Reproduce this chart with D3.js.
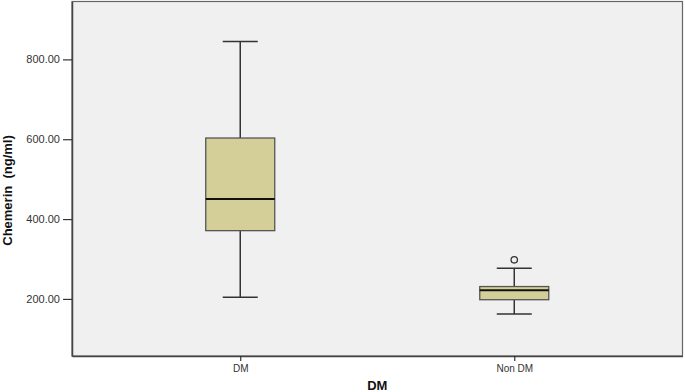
<!DOCTYPE html>
<html>
<head>
<meta charset="utf-8">
<script src="https://cdn.jsdelivr.net/npm/d3@7"></script>
<style>
  body { margin: 0; background: #fff; }
  text { font-family: "Liberation Sans", Arial, sans-serif; }
</style>
</head>
<body>
<div id="chart"></div>
<script>
// Data
const groups = ["DM", "Non DM"];
const whiskerLow = [204, 162];
const q1 = [371, 198];
const median = [450, 222];
const q3 = [603, 231];
const whiskerHigh = [845, 277];
const outliers = [[], [298]];
const yTicks = [200, 400, 600, 800];

const W = 685, H = 392;
const margin = {top: 1.5, right: 2.5, bottom: 36, left: 72};
const width = W - margin.left - margin.right,
    height = H - margin.top - margin.bottom;

const x = d3.scalePoint().domain(groups).range([0, width]).padding(0.614);
const y = d3.scaleLinear().domain([57, 945]).range([height, 0]);

const svg = d3.select("#chart").append("svg")
    .attr("width", W)
    .attr("height", H)
  .append("g")
    .attr("transform", "translate(" + margin.left + "," + margin.top + ")");

// Plot background and frame
svg.append("rect")
    .attr("width", width).attr("height", height)
    .attr("fill", "#f0f0f0")
    .attr("stroke", "#666").attr("stroke-width", 1.2);

// Axes
const yAxis = svg.append("g")
    .call(d3.axisLeft(y).tickValues(yTicks).tickFormat(d3.format(".2f")).tickSize(9).tickSizeOuter(0));
yAxis.select(".domain").attr("stroke", "#444").attr("stroke-width", 1.5);
yAxis.selectAll(".tick line").attr("stroke", "#333").attr("stroke-width", 1.2);
yAxis.selectAll(".tick text").attr("font-size", 11).attr("fill", "#333").attr("dx", 0);

const xAxis = svg.append("g")
    .attr("transform", "translate(0," + height + ")")
    .call(d3.axisBottom(x).tickSize(5).tickSizeOuter(0));
xAxis.select(".domain").attr("stroke", "#444").attr("stroke-width", 1.5);
xAxis.selectAll(".tick line").attr("stroke", "#333").attr("stroke-width", 1.2);
xAxis.selectAll(".tick text").attr("font-size", 10).attr("fill", "#333").attr("dy", "0.8em");

// Axis titles
svg.append("text")
    .attr("x", width / 2).attr("y", H - margin.top - 2)
    .attr("text-anchor", "middle")
    .attr("font-size", 13).attr("font-weight", "bold").attr("fill", "#111")
    .text("DM");

svg.append("text")
    .attr("transform", "translate(" + (12 - margin.left) + "," + 189 + ") rotate(-90)")
    .attr("text-anchor", "middle")
    .attr("xml:space", "preserve")
    .style("white-space", "pre")
    .attr("font-size", 13).attr("font-weight", "bold").attr("fill", "#111")
    .text("Chemerin  (ng/ml)");

// Boxes
const boxW = 69, capW = 35;
const boxes = svg.selectAll(".box")
    .data(groups.map((g, i) => ({g, i})))
    .enter().append("g")
    .attr("class", "box")
    .attr("transform", d => "translate(" + x(d.g) + ",0)");

boxes.append("line")
    .attr("y1", d => y(whiskerHigh[d.i])).attr("y2", d => y(q3[d.i]))
    .attr("stroke", "#333").attr("stroke-width", 1.5);
boxes.append("line")
    .attr("y1", d => y(q1[d.i])).attr("y2", d => y(whiskerLow[d.i]))
    .attr("stroke", "#333").attr("stroke-width", 1.5);
boxes.append("line")
    .attr("x1", -capW / 2).attr("x2", capW / 2)
    .attr("y1", d => y(whiskerHigh[d.i])).attr("y2", d => y(whiskerHigh[d.i]))
    .attr("stroke", "#333").attr("stroke-width", 1.5);
boxes.append("line")
    .attr("x1", -capW / 2).attr("x2", capW / 2)
    .attr("y1", d => y(whiskerLow[d.i])).attr("y2", d => y(whiskerLow[d.i]))
    .attr("stroke", "#333").attr("stroke-width", 1.5);
boxes.append("rect")
    .attr("x", -boxW / 2).attr("width", boxW)
    .attr("y", d => y(q3[d.i]))
    .attr("height", d => y(q1[d.i]) - y(q3[d.i]))
    .attr("fill", "#d4cf99")
    .attr("stroke", "#555").attr("stroke-width", 1.3);
boxes.append("line")
    .attr("x1", -boxW / 2).attr("x2", boxW / 2)
    .attr("y1", d => y(median[d.i])).attr("y2", d => y(median[d.i]))
    .attr("stroke", "#111").attr("stroke-width", 2);

boxes.selectAll(".outlier")
    .data(d => outliers[d.i])
    .enter().append("circle")
    .attr("class", "outlier")
    .attr("cy", v => y(v)).attr("r", 3.2)
    .attr("fill", "none").attr("stroke", "#333").attr("stroke-width", 1.3);
</script>
</body>
</html>
